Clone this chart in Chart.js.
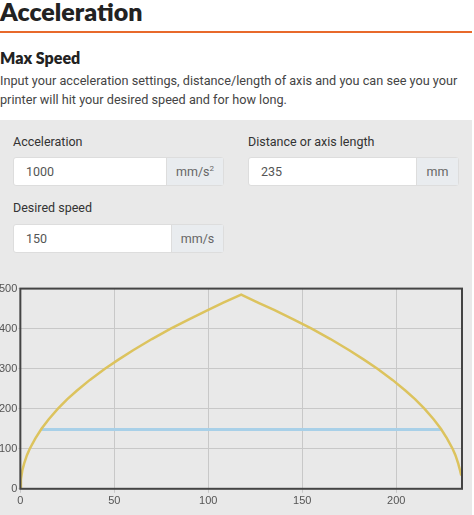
<!DOCTYPE html>
<html><head><meta charset="utf-8">
<script src="https://cdn.jsdelivr.net/npm/chart.js@4/dist/chart.umd.min.js"></script>
<style>
body{margin:0;width:474px;height:515px;overflow:hidden;font-family:Roboto,"Open Sans",sans-serif;background:#fff;color:#222}
h1{position:absolute;left:0;top:-4px;margin:0;font-size:25px;font-weight:800;font-family:Lato,sans-serif}
.rule{position:absolute;left:0;top:31px;width:472px;height:2px;background:#e8692b}
h2{position:absolute;left:0;top:48px;margin:0;font-size:16px;font-weight:800;font-family:Lato,sans-serif}
p{position:absolute;left:0;top:71px;margin:0;font-size:12.7px;line-height:19px;color:#444;width:474px}
.panel{position:absolute;left:0;top:120px;width:472px;height:395px;background:#e9e9e9}
.lbl{position:absolute;font-size:12.5px;color:#333}
.inp{position:absolute;height:29px;background:#fff;border:1px solid #ddd;border-radius:3px;box-sizing:border-box;font-size:12.5px;color:#555}
.inp span{position:absolute;left:12px;top:6px}
.inp .add{position:absolute;right:0;top:0;height:100%;background:#e9ecef;border-left:1px solid #ddd;font-size:12.5px;color:#666;display:flex;align-items:center;justify-content:center}
#wrap{position:absolute;left:-2px;top:281px;width:472px;height:229px}
</style></head><body>
<h1>Acceleration</h1><div class="rule"></div>
<h2>Max Speed</h2>
<p>Input your acceleration settings, distance/length of axis and you can see you your printer will hit your desired speed and for how long.</p>
<div class="panel"></div>
<div class="lbl" style="left:13px;top:134px">Acceleration</div>
<div class="lbl" style="left:248px;top:134px">Distance or axis length</div>
<div class="lbl" style="left:13px;top:200px">Desired speed</div>
<div class="inp" style="left:13px;top:157px;width:211px"><span>1000</span><div class="add" style="width:56px">mm/s<sup style="font-size:8px;margin-top:-6px">2</sup></div></div>
<div class="inp" style="left:248px;top:157px;width:211px"><span>235</span><div class="add" style="width:41px">mm</div></div>
<div class="inp" style="left:13px;top:224px;width:211px"><span>150</span><div class="add" style="width:51px">mm/s</div></div>
<div id="wrap"><canvas id="c"></canvas></div>
<script>
const curveX = [0, 0.3, 1, 2, 3.5, 5, 8, 11.25, 15, 20, 25, 30, 37, 45, 52, 60, 70, 80, 90, 100, 108, 117.5,
                127, 135, 145, 155, 165, 175, 183, 190, 198, 205, 210, 215, 220, 223.75, 227, 230, 231.5, 233, 234, 234.6];
const curveY = [0, 24, 45, 63, 84, 100, 126, 150, 173, 200, 224, 245, 272, 300, 322, 346, 374, 400, 424, 447, 465, 485,
                464, 447, 424, 400, 374, 346, 322, 300, 272, 245, 224, 200, 173, 150, 126, 100, 84, 63, 45, 33];
const desiredX = [11.25, 223.75];
const desiredY = [148, 148];
const xTicks = [0, 50, 100, 150, 200];

const boxPlugin = {
  id: 'box',
  afterDraw(chart) {
    const a = chart.chartArea, ctx = chart.ctx;
    ctx.save(); ctx.strokeStyle = '#444'; ctx.lineWidth = 2;
    ctx.strokeRect(a.left, a.top, a.right - a.left, a.bottom - a.top);
    ctx.restore();
  }
};

new Chart(document.getElementById('c'), {
  type: 'scatter',
  data: {
    datasets: [
      { data: curveX.map((x, i) => ({ x, y: curveY[i] })), showLine: true, borderColor: '#dcc35e', borderWidth: 2.5, pointRadius: 0, tension: 0 },
      { data: desiredX.map((x, i) => ({ x, y: desiredY[i] })), showLine: true, borderColor: '#a8d0e8', borderWidth: 3, pointRadius: 0 }
    ]
  },
  options: {
    animation: false, responsive: true, maintainAspectRatio: false,
    layout: { padding: { right: 8, top: 4 } },
    plugins: { legend: { display: false }, tooltip: { enabled: false } },
    scales: {
      x: { type: 'linear', min: 0, max: 235, afterBuildTicks: (ax) => { ax.ticks = xTicks.map(v => ({ value: v })); },
           grid: { color: '#c8c8c8', tickLength: 4 }, border: { display: false }, ticks: { color: '#555', font: { size: 11 }, padding: 2 } },
      y: { min: 0, max: 500, ticks: { stepSize: 100, color: '#555', font: { size: 11 }, padding: 1 },
           grid: { color: '#c8c8c8', tickLength: 2 }, border: { display: false } }
    }
  },
  plugins: [boxPlugin]
});
</script>
</body></html>
